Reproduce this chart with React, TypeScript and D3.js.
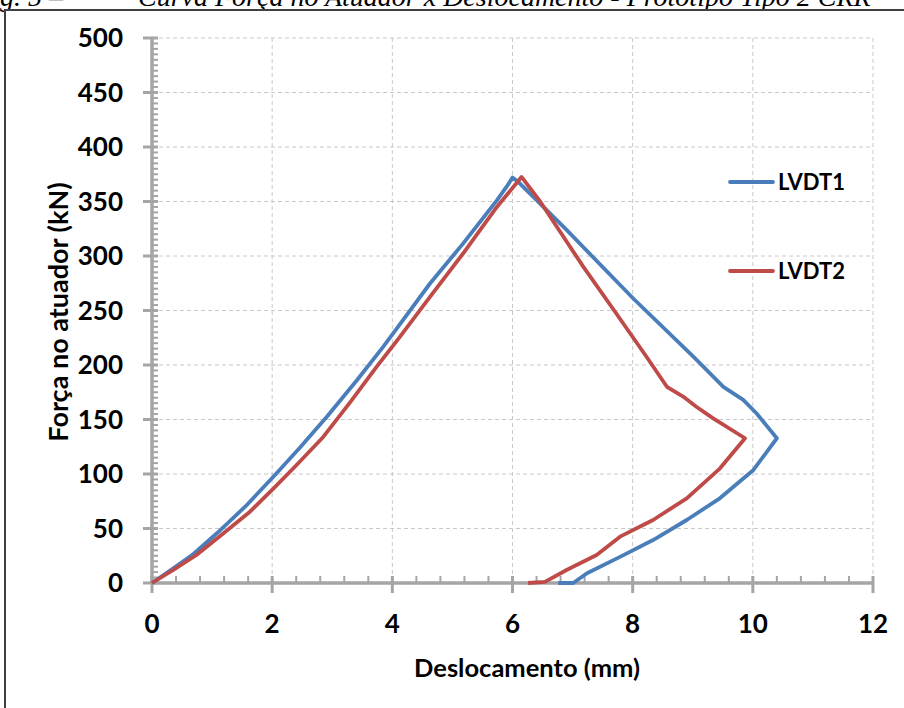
import React from "react";
import * as d3 from "d3";

const xTicks = [0, 2, 4, 6, 8, 10, 12];
const yTicks = [0, 50, 100, 150, 200, 250, 300, 350, 400, 450, 500];

const seriesNames = ["LVDT1", "LVDT2"];
const seriesColors = ["#4A7EBB", "#BE4B48"];

const lvdt1X = [0, 0.355, 0.69, 1.08, 1.55, 2.02, 2.46, 2.91, 3.41, 3.85, 4.1, 4.63, 5.18, 5.74, 5.92, 6.0, 6.05, 6.12, 6.9, 8.01, 9.01, 9.51, 9.84, 10.06, 10.4, 10.01, 9.45, 8.9, 8.34, 7.79, 7.24, 7.01, 6.76];
const lvdt1Y = [0, 13.5, 26.6, 45.6, 70, 97.5, 124, 152.6, 186, 216.8, 235.5, 275, 311.6, 351, 365, 372, 370, 366.7, 323.9, 261, 207.6, 180, 168, 155.7, 132.8, 103.7, 77.7, 57.8, 39.4, 24, 8.9, 0, 0];

const lvdt2X = [0, 0.355, 0.74, 1.19, 1.63, 2.02, 2.41, 2.85, 3.3, 3.74, 4.1, 4.63, 5.18, 5.74, 6.15, 6.46, 7.18, 7.73, 8.23, 8.57, 8.84, 9.06, 9.34, 9.87, 9.45, 8.9, 8.34, 7.79, 7.4, 6.9, 6.54, 6.26];
const lvdt2Y = [0, 12, 25.7, 45.6, 65.4, 86.5, 108.5, 134, 166, 198.5, 224, 262.7, 302.5, 345, 372.5, 350, 290, 247, 207.6, 180, 171, 161.7, 151, 132.8, 105, 77.7, 57.8, 42.5, 25.7, 11.9, 1, 0];

const W = 904;
const H = 708;
const L = 152, R = 873, T = 38, B = 583;

export default function App() {
  const x = d3.scaleLinear().domain([0, 12]).range([L, R]);
  const y = d3.scaleLinear().domain([0, 500]).range([B, T]);
  const line = d3.line<[number, number]>().x(d => x(d[0])).y(d => y(d[1]));
  const s1: [number, number][] = lvdt1X.map((v, i) => [v, lvdt1Y[i]]);
  const s2: [number, number][] = lvdt2X.map((v, i) => [v, lvdt2Y[i]]);
  const axisColor = "#A5A5A5";
  const gridColor = "#C8C8C8";
  const font = "Lato, 'Open Sans', sans-serif";
  const serif = "'Liberation Serif', 'DejaVu Serif', serif";
  const xMinor = d3.range(0, 12.0001, 0.4);
  const yMinor = d3.range(0, 500.001, 5);

  return (
    <svg width={W} height={H} style={{ position: "absolute", left: 0, top: 0, background: "#fff" }}>
      <rect x={0} y={0} width={W} height={H} fill="#fff" />
      {/* caption cut off at top */}
      <text x={-25} y={6} fontFamily={serif} fontStyle="italic" fontSize={28} fill="#000">Fig. 5 –</text>
      <text x={138} y={6} fontFamily={serif} fontStyle="italic" fontSize={28} fill="#000">Curva Força no Atuador x Deslocamento - Protótipo Tipo 2 CRR</text>
      {/* frame */}
      <rect x={5} y={10} width={W + 20} height={H + 20} fill="#fff" stroke="#404040" strokeWidth={2} />
      {/* grid */}
      {yTicks.filter(v => v > 0).map(v => (
        <line key={"gy" + v} x1={L} x2={R} y1={y(v)} y2={y(v)} stroke={gridColor} strokeWidth={1} strokeDasharray="4,3" />
      ))}
      {xTicks.filter(v => v > 0).map(v => (
        <line key={"gx" + v} x1={x(v)} x2={x(v)} y1={T} y2={B} stroke={gridColor} strokeWidth={1} strokeDasharray="4,3" />
      ))}
      {/* y axis */}
      {yMinor.map(v => (
        <line key={"ym" + v} x1={L} x2={L + 6} y1={y(v)} y2={y(v)} stroke={axisColor} strokeWidth={2} />
      ))}
      {yTicks.map(v => (
        <line key={"yM" + v} x1={L - 9} x2={L + 6} y1={y(v)} y2={y(v)} stroke={axisColor} strokeWidth={3} />
      ))}
      <line x1={L} x2={L} y1={T - 1} y2={B} stroke={axisColor} strokeWidth={3.5} />
      {/* x axis */}
      {xMinor.map(v => (
        <line key={"xm" + v} x1={x(v)} x2={x(v)} y1={B} y2={B - 7} stroke={axisColor} strokeWidth={2} />
      ))}
      {xTicks.map(v => (
        <line key={"xM" + v} x1={x(v)} x2={x(v)} y1={B - 7} y2={B + 10} stroke={axisColor} strokeWidth={3} />
      ))}
      <line x1={L - 1} x2={R + 1} y1={B} y2={B} stroke={axisColor} strokeWidth={3.5} />
      {/* tick labels */}
      {yTicks.map(v => (
        <text key={"yl" + v} x={123} y={y(v)} dy="0.36em" textAnchor="end" fontFamily={font} fontWeight="bold" fontSize={26} fill="#000">{v}</text>
      ))}
      {xTicks.map(v => (
        <text key={"xl" + v} x={x(v)} y={633} textAnchor="middle" fontFamily={font} fontWeight="bold" fontSize={26} fill="#000">{v}</text>
      ))}
      {/* titles */}
      <text x={527} y={677} textAnchor="middle" fontFamily={font} fontWeight="bold" fontSize={25.5} fill="#000">Deslocamento (mm)</text>
      <text transform="translate(68,312) rotate(-90)" textAnchor="middle" fontFamily={font} fontWeight="bold" fontSize={27} fill="#000">Força no atuador (kN)</text>
      {/* series */}
      <path d={line(s1) || ""} fill="none" stroke={seriesColors[0]} strokeWidth={3.8} strokeLinejoin="round" />
      <path d={line(s2) || ""} fill="none" stroke={seriesColors[1]} strokeWidth={3.8} strokeLinejoin="round" />
      {/* legend */}
      {seriesNames.map((n, i) => {
        const ly = i === 0 ? 182 : 271;
        return (
          <g key={n}>
            <line x1={730} x2={773} y1={ly} y2={ly} stroke={seriesColors[i]} strokeWidth={3.8} strokeLinecap="round" />
            <text x={778} y={ly + 8} fontFamily={font} fontWeight="bold" fontSize={22} fill="#000">{n}</text>
          </g>
        );
      })}
    </svg>
  );
}
